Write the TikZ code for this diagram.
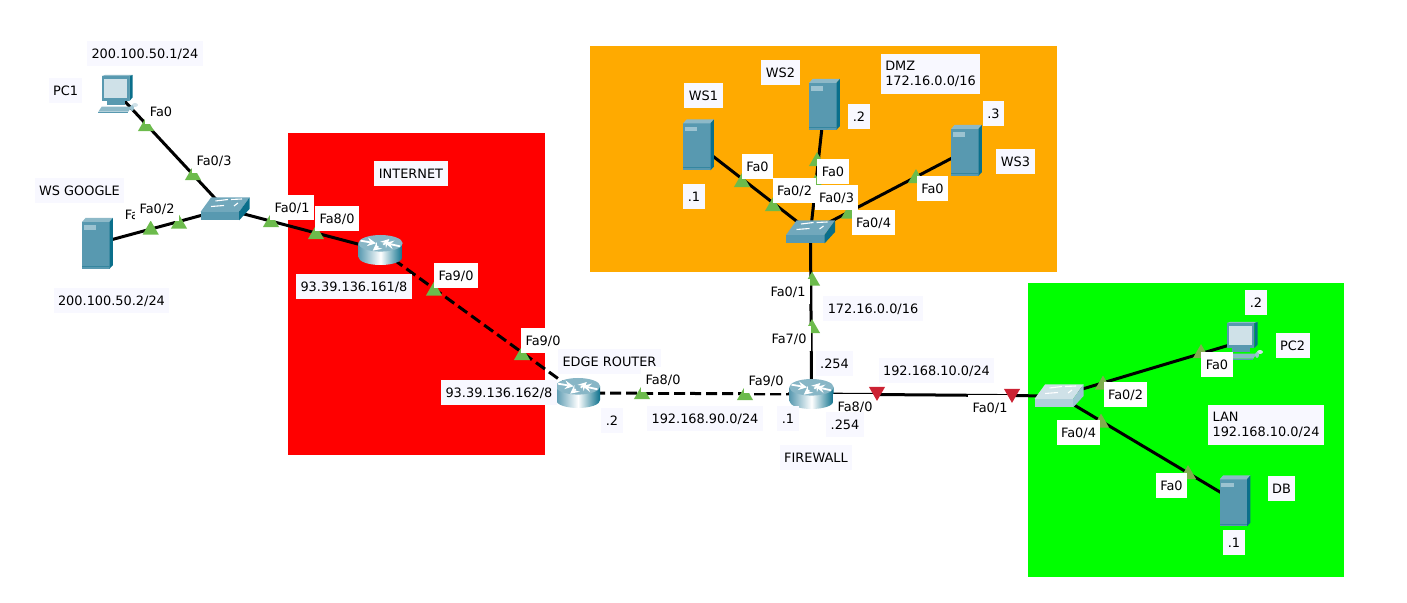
\documentclass[tikz,border=0pt]{standalone}
\usepackage{fontspec}
\setmainfont{DejaVu Sans}
\usetikzlibrary{shapes.geometric}

\definecolor{zonered}{HTML}{FF0000}
\definecolor{zoneorange}{HTML}{FFAA00}
\definecolor{zonegreen}{HTML}{00FF00}
\definecolor{labelpale}{HTML}{F8F8FF}
\definecolor{portgreen}{HTML}{6CBB4C}
\definecolor{portolive}{HTML}{7FAE4E}
\definecolor{portred}{HTML}{CC2233}
\definecolor{devfront}{HTML}{5899B0}
\definecolor{devtop}{HTML}{8DB9C8}
\definecolor{devside}{HTML}{0A6F8B}
\definecolor{devslot}{HTML}{9CC3D1}
\definecolor{devscreen}{HTML}{CFE1E8}

\tikzset{
  devbox/.style={inner sep=0pt,outer sep=0pt},
  serverbox/.style={devbox,minimum width=15.5pt,minimum height=25.5pt},
  switchbox/.style={devbox,minimum width=24.5pt,minimum height=11.5pt},
  routerbox/.style={devbox,ellipse,minimum width=22.5pt,minimum height=15pt},
  pcbox/.style={devbox,minimum width=16pt,minimum height=18pt},
  link/.style={line width=1.5pt,black},
  dashlink/.style={link,dash pattern=on 5.5pt off 2.5pt},
  port/.style={regular polygon,regular polygon sides=3,inner sep=0pt,minimum size=9.4pt,fill=portgreen},
  portlan/.style={port,fill=portolive},
  portdown/.style={port,fill=portred,shape border rotate=180},
  lbl/.style={inner xsep=2.25pt,inner ysep=0pt,minimum height=12.5pt,text height=5.7pt,text depth=0.9pt,
    font=\fontsize{6.45}{7.5}\selectfont},
  lblpale/.style={lbl,fill=labelpale},
  lblport/.style={lbl,fill=white},
  lblzone/.style={inner xsep=2.25pt,inner ysep=0pt,minimum height=20pt,align=left,fill=labelpale,
    font=\fontsize{6.45}{7.5}\selectfont},
  pics/servericon/.style={code={
    \fill[devfront] (-15.3,-21.7) rectangle (12,25.3);
    \fill[devtop] (-15.3,-21.7) -- (-12,-25.5) -- (15.3,-25.5) -- (12,-21.7) -- cycle;
    \fill[devside] (12,-21.7) -- (15.3,-25.5) -- (15.3,21.7) -- (12,25.3) -- cycle;
    \fill[devslot] (-14,-18.3) rectangle (-1.3,-13.6);
    \fill[devside!45!devfront] (-15.3,22.5) rectangle (12,23.2);
  }},
  pics/switchicon/.style args={#1/#2/#3}{code={
    \fill[#2] (-24.5,3) rectangle (14,11.5);
    \fill[#1] (-24.5,3) -- (-14,-11.5) -- (24.5,-11.5) -- (14,3) -- cycle;
    \fill[#3] (14,3) -- (24.5,-11.5) -- (24.5,0) -- (14,11.5) -- cycle;
    \draw[white,line width=.55pt] (-9.5,-8) -- (3,-9.5) (6,-9.5) -- (17,-10)
      (-14,-2.5) -- (-1,-3.5) (9,-3) -- (13,-6);
  }},
  pics/routericon/.style={code={
    \shade[left color=devfront,right color=devside,middle color=white]
      (-22.2,-6.7) -- (-22.2,6.7) .. controls (-22.2,11.6) and (-12.3,15) .. (0,15)
      .. controls (12.3,15) and (22.2,11.6) .. (22.2,6.7) -- (22.2,-6.7) -- cycle;
    \fill[devtop!90!devfront] (0,-6.7) ellipse (22.2 and 8.3);
    \draw[white,line width=.9pt,-stealth] (-20,-9.3) -- (-4.5,-6.7);
    \draw[white,line width=.9pt,-stealth] (-2.2,-3.7) -- (-7.8,.7);
    \draw[white,line width=.9pt,-stealth] (2.8,-5.3) -- (8.8,-11);
    \draw[white,line width=.9pt,-stealth] (19.5,-3.7) -- (4.5,-7);
  }},
  pics/pcicon/.style={code={
    \fill[devtop] (-16.3,-18) -- (-13,-19) -- (14.7,-19) -- (11.3,-18) -- cycle;
    \fill[devfront] (-16.3,-18) rectangle (11.3,7);
    \fill[devside] (11.3,-18) -- (14.7,-19) -- (14.7,3.5) -- (11.3,7) -- cycle;
    \fill[devscreen] (-14,-14.7) rectangle (8.7,4.3);
    \fill[devfront] (-11.3,7) rectangle (7,11);
    \fill[devtop] (-19.7,17.7) -- (-16.3,12.7) -- (13.7,12.7) -- (10.3,17.7) -- cycle;
    \fill[devfront] (-19.7,17.7) rectangle (10.3,18.2);
    \fill[devscreen] (17,11) ellipse (3 and 2);
    \fill[devslot] (14,14) ellipse (2 and 3);
  }}
}

\begin{document}
\begin{tikzpicture}[x=0.5pt,y=-0.5pt]
  \useasboundingbox (0,0) rectangle (1407,603);
  % zones
  \fill[zonered] (288.4,133.4) rectangle (544.6,455.3);
  \fill[zoneorange] (590.2,46.4) rectangle (1057.4,272);
  \fill[zonegreen] (1028.4,282.7) rectangle (1344.3,577.3);
  % devices
  \node[pcbox] (pcone) at (118,94) {};
  \node[serverbox] (wsgoogle) at (97.5,243.5) {};
  \node[switchbox] (swone) at (225,209) {};
  \node[routerbox] (rone) at (380.5,250) {};
  \node[routerbox] (edge) at (578,393) {};
  \node[routerbox] (firewall) at (811.5,394) {};
  \node[switchbox] (swdmz) at (810.5,232) {};
  \node[serverbox] (wsone) at (698.5,145) {};
  \node[serverbox] (wstwo) at (824.5,104.5) {};
  \node[serverbox] (wsthree) at (966.5,150.5) {};
  \node[switchbox] (swlan) at (1059,396) {};
  \node[pcbox] (pctwo) at (1243,341) {};
  \node[serverbox] (db) at (1235,501) {};
  % links
  \draw[link] (pcone.center) -- (swone.center);
  \draw[link] (wsgoogle.center) -- (swone.center);
  \draw[link] (swone.center) -- (rone.center);
  \draw[dashlink] (rone.center) -- (edge.center);
  \draw[dashlink] (edge.center) -- (firewall.center);
  \draw[link] (firewall.center) -- (swdmz.center);
  \draw[link] (swdmz.center) -- (wsone.center);
  \draw[link] (swdmz.center) -- (wstwo.center);
  \draw[link] (swdmz.center) -- (wsthree.center);
  \draw[link] (firewall.center) -- (swlan.center);
  \draw[link] (swlan.center) -- (pctwo.center);
  \draw[link] (swlan.center) -- (db.center);
  % icons
  \path (pcone) pic {pcicon};
  \path (wsgoogle) pic {servericon};
  \path (swone) pic {switchicon={devfront!85!white/devfront/devside}};
  \path (rone) pic {routericon};
  \path (edge) pic {routericon};
  \path (firewall) pic {routericon};
  \path (swdmz) pic {switchicon={devfront!85!white/devfront/devside}};
  \path (wsone) pic {servericon};
  \path (wstwo) pic {servericon};
  \path (wsthree) pic {servericon};
  \path (swlan) pic {switchicon={devscreen/devslot!80!white/devslot}};
  \path (pctwo) pic {pcicon};
  \path (db) pic {servericon};
  % label hidden under the Fa0/2 one
  \path (136,215) node[lblport] (gfazero) {Fa0};
  % ports
  \path (146,126.5) node[port] (ptpc) {};
  \path (193,175.5) node[port] (ptswthree) {};
  \path (150.7,230) node[port] (ptgoogle) {};
  \path (179,224) node[port] (ptswtwo) {};
  \path (271,222.5) node[port] (ptswone) {};
  \path (316,234.5) node[port] (ptrone) {};
  \path (434,291) node[port] (ptrnine) {};
  \path (522,355.5) node[port] (ptenine) {};
  \path (642,394.5) node[port] (pteeight) {};
  \path (745,395.5) node[port] (ptfnine) {};
  \path (812,281) node[port] (ptdmzup) {};
  \path (812,328.5) node[port] (ptfseven) {};
  \path (742,182.5) node[port] (ptwsone) {};
  \path (773,206.5) node[port] (ptdtwo) {};
  \path (817,161.5) node[port] (ptwstwo) {};
  \path (815.5,184) node[port] (ptdthree) {};
  \path (916,178.5) node[port] (ptwsthree) {};
  \path (849,214) node[port] (ptdfour) {};
  \path (1103,385) node[portlan] (ptltwo) {};
  \path (1201,353.5) node[portlan] (ptpctwo) {};
  \path (1101,423) node[portlan] (ptlfour) {};
  \path (1188,474.5) node[portlan] (ptdb) {};
  % interface labels
  \path (161,112) node[lblport] (fapc) {Fa0};
  \path (214,161) node[lblport] (fathree) {Fa0/3};
  \path (157,209) node[lblport] (fatwo) {Fa0/2};
  \path (292,208) node[lblport] (faone) {Fa0/1};
  \path (337,219) node[lblport] (faeight) {Fa8/0};
  \path (456,276) node[lblport] (faninea) {Fa9/0};
  \path (543,341) node[lblport] (fanineb) {Fa9/0};
  \path (609.5,361.5) node[lblpale] (edgename) {EDGE ROUTER};
  \path (663,380) node[lblport] (faedge) {Fa8/0};
  \path (766,381) node[lblport] (fafw) {Fa9/0};
  \path (788,292) node[lblport] (fadmz) {Fa0/1};
  \path (789,339) node[lblport] (faseven) {Fa7/0};
  \path (855,407) node[lblport] (fafwlan) {Fa8/0};
  \path (990,407.5) node[lblport] (falan) {Fa0/1};
  \path (757.5,166.5) node[lblport] (faws) {Fa0};
  \path (794.5,190.5) node[lblport] (fadtwo) {Fa0/2};
  \path (833,171.5) node[lblport] (fawstwo) {Fa0};
  \path (836.5,197.5) node[lblport] (fadthree) {Fa0/3};
  \path (873.5,222.5) node[lblport] (fadfour) {Fa0/4};
  \path (932.5,188.5) node[lblport] (fawsthree) {Fa0};
  \path (1125.5,394.5) node[lblport] (faltwo) {Fa0/2};
  \path (1078.5,432.5) node[lblport] (falfour) {Fa0/4};
  \path (1217,364.5) node[lblport] (fapctwo) {Fa0};
  \path (1171.5,485.5) node[lblport] (fadb) {Fa0};
  % names and addresses
  \path (145,53.5) node[lblpale] (ippc) {200.100.50.1/24};
  \path (65.5,90.5) node[lblpale] (namepc) {PC1};
  \path (79.5,190.5) node[lblpale] (namegoogle) {WS GOOGLE};
  \path (111.5,300.5) node[lblpale] (ipgoogle) {200.100.50.2/24};
  \path (411,173.5) node[lblpale] (nameinet) {INTERNET};
  \path (354,287) node[lblpale] (iprone) {93.39.136.161/8};
  \path (499,392.5) node[lblpale] (ipedge) {93.39.136.162/8};
  \path (612,420.5) node[lblpale] (dotedge) {.2};
  \path (705,418.5) node[lblpale] (netninety) {192.168.90.0/24};
  \path (788,419) node[lblpale] (dotfw) {.1};
  \path (845,424.5) node[lblpale] (dotfwlan) {.254};
  \path (816,457.5) node[lblpale] (namefw) {FIREWALL};
  \path (873,308.5) node[lblpale] (netdmz) {172.16.0.0/16};
  \path (834.5,363.5) node[lblpale] (dotfwdmz) {.254};
  \path (936.5,370.5) node[lblpale] (netlan) {192.168.10.0/24};
  \path (703.5,95.5) node[lblpale] (namewsone) {WS1};
  \path (780.5,72.5) node[lblpale] (namewstwo) {WS2};
  \path (1015.5,161.5) node[lblpale] (namewsthree) {WS3};
  \path (694,196.5) node[lblpale] (dotwsone) {.1};
  \path (859,116.5) node[lblpale] (dotwstwo) {.2};
  \path (993.5,113.5) node[lblpale] (dotwsthree) {.3};
  \path (930.5,74) node[lblzone] (namedmz) {DMZ\\172.16.0.0/16};
  \path (1256,302.5) node[lblpale] (dotpctwo) {.2};
  \path (1292.5,345.5) node[lblpale] (namepctwo) {PC2};
  \path (1266,425) node[lblzone] (namelan) {LAN\\192.168.10.0/24};
  \path (1281.5,488.5) node[lblpale] (namedb) {DB};
  \path (1234,542.5) node[lblpale] (dotdb) {.1};
  % the two red ports stay on top
  \path (877,391.5) node[portdown] (ptfwlan) {};
  \path (1012,393.5) node[portdown] (ptlanin) {};
\end{tikzpicture}
\end{document}
